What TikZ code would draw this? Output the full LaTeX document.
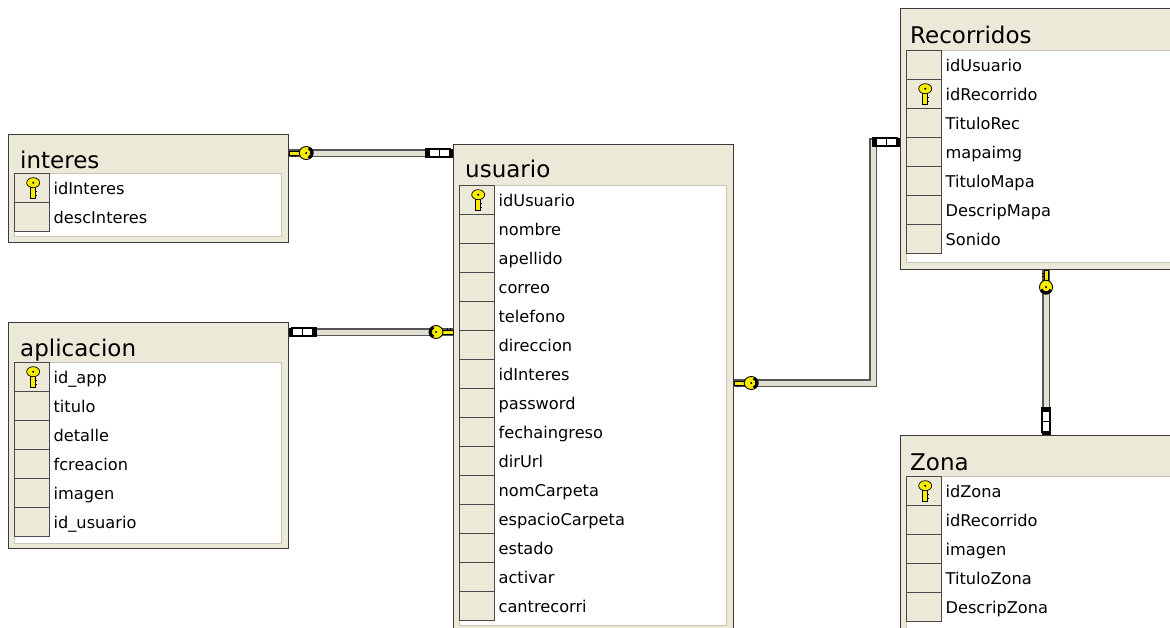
\documentclass[tikz,border=0pt]{standalone}
\usepackage{fontspec}
\setmainfont{DejaVu Sans}
\usetikzlibrary{positioning}
\definecolor{winbeige}{HTML}{ECE9D8}
\definecolor{tblborder}{HTML}{3A3A3A}
\definecolor{cellline}{HTML}{4A4A4A}
\definecolor{arealine}{HTML}{C8C4B8}
\definecolor{keyyellow}{HTML}{F8EC00}
\definecolor{pipeedge}{HTML}{555555}
\definecolor{pipecore}{HTML}{E2DFD3}
\tikzset{
	pkey/.pic={
		\filldraw[fill=keyyellow, draw=black, line width=0.7pt] (-2.5,-1) rectangle (2.2,10.5);
		\draw[line width=0.9pt] (2.2,4) -- (4.2,4) (2.2,7.5) -- (4.2,7.5);
		\filldraw[fill=keyyellow, draw=black, line width=0.7pt] (0,-5) ellipse (6.5 and 5);
		\fill (0,-5) circle (1.1);
	},
	keyend/.pic={
		\filldraw[fill=keyyellow, draw=black, line width=0.6pt] (0,-1.8) rectangle (11,1.8);
		\draw[line width=0.8pt] (3,1.8) -- (3,3.8) (6,1.8) -- (6,3.8);
		\filldraw[fill=keyyellow, draw=black, line width=0.9pt] (17,0) ellipse (7 and 6.5);
		\draw[line width=2.8pt] ([shift={(17,0)}]-65:5.8 and 5.3) arc (-65:65:5.8 and 5.3);
		\fill (17,0) circle (1.2);
	},
	manyend/.pic={
		\fill (0,-4.5) rectangle (3,4.5);
		\draw[fill=white, line width=1.5pt] (3,-4) rectangle (13.5,4) (13.5,-4) rectangle (24,4);
		\fill (24,-5) rectangle (28,5);
	}
}
\begin{document}
\begin{tikzpicture}[
	x=1pt, y=-1pt,
	tbl/.style={draw=tblborder, line width=1.2pt, fill=winbeige, anchor=north west, minimum width=280pt, inner sep=0pt},
	tbltitle/.style={anchor=base west, inner sep=0pt, font=\fontsize{23}{23}\selectfont},
	fieldarea/.style={draw=arealine, fill=white, anchor=north west, minimum width=267pt, inner sep=0pt},
	keycell/.style={draw=cellline, fill=winbeige, anchor=north west, minimum width=35pt, minimum height=29pt, inner sep=0pt},
	fieldname/.style={anchor=base west, inner sep=0pt, font=\fontsize{16.2}{16.2}\selectfont},
	pipe/.style={draw=pipeedge, double=pipecore, line width=1.1pt, double distance=5pt}
]
\clip (0,0) rectangle (1170,627);
\fill[white] (0,0) rectangle (1170,627);

% interes
\node[tbl, minimum height=108pt] (interes) at (8,134) {};
\node[tbltitle] (interes-title) at ([shift={(12,34)}]interes.north west) {interes};
\node[fieldarea, minimum height=63pt] (interes-fields) at ([shift={(6,39)}]interes.north west) {};
\foreach \f [count=\i] in {idInteres,descInteres}
	\node[keycell] (interes-\i) at ([shift={(0,{(\i-1)*29})}]interes-fields.north west) {}
		node[fieldname] (interes-\i-name) at ([shift={(4,21)}]interes-\i.north east) {\f};
\pic at ([xshift=1.5pt]interes-1) {pkey};

% aplicacion
\node[tbl, minimum height=226pt] (aplicacion) at (8,322) {};
\node[tbltitle] (aplicacion-title) at ([shift={(12,34)}]aplicacion.north west) {aplicacion};
\node[fieldarea, minimum height=181pt] (aplicacion-fields) at ([shift={(6,40)}]aplicacion.north west) {};
\foreach \f [count=\i] in {id\_app,titulo,detalle,fcreacion,imagen,id\_usuario}
	\node[keycell] (aplicacion-\i) at ([shift={(0,{(\i-1)*29})}]aplicacion-fields.north west) {}
		node[fieldname] (aplicacion-\i-name) at ([shift={(4,21)}]aplicacion-\i.north east) {\f};
\pic at ([xshift=1.5pt]aplicacion-1) {pkey};

% usuario
\node[tbl, minimum height=490pt] (usuario) at (453,144) {};
\node[tbltitle] (usuario-title) at ([shift={(12,33)}]usuario.north west) {usuario};
\node[fieldarea, minimum height=440pt] (usuario-fields) at ([shift={(6,41)}]usuario.north west) {};
\foreach \f [count=\i] in {idUsuario,nombre,apellido,correo,telefono,direccion,idInteres,password,fechaingreso,dirUrl,nomCarpeta,espacioCarpeta,estado,activar,cantrecorri}
	\node[keycell] (usuario-\i) at ([shift={(0,{(\i-1)*29})}]usuario-fields.north west) {}
		node[fieldname] (usuario-\i-name) at ([shift={(4,21)}]usuario-\i.north east) {\f};
\pic at ([xshift=1.5pt]usuario-1) {pkey};

% recorridos
\node[tbl, minimum height=261pt] (recorridos) at (900,8) {};
\node[tbltitle] (recorridos-title) at ([shift={(10,35)}]recorridos.north west) {Recorridos};
\node[fieldarea, minimum height=212pt] (recorridos-fields) at ([shift={(6,42)}]recorridos.north west) {};
\foreach \f [count=\i] in {idUsuario,idRecorrido,TituloRec,mapaimg,TituloMapa,DescripMapa,Sonido}
	\node[keycell] (recorridos-\i) at ([shift={(0,{(\i-1)*29})}]recorridos-fields.north west) {}
		node[fieldname] (recorridos-\i-name) at ([shift={(4,21)}]recorridos-\i.north east) {\f};
\pic at ([xshift=1.5pt]recorridos-2) {pkey};

% zona
\node[tbl, minimum height=200pt] (zona) at (900,435) {};
\node[tbltitle] (zona-title) at ([shift={(10,35)}]zona.north west) {Zona};
\node[fieldarea, minimum height=160pt] (zona-fields) at ([shift={(6,41)}]zona.north west) {};
\foreach \f [count=\i] in {idZona,idRecorrido,imagen,TituloZona,DescripZona}
	\node[keycell] (zona-\i) at ([shift={(0,{(\i-1)*29})}]zona-fields.north west) {}
		node[fieldname] (zona-\i-name) at ([shift={(4,21)}]zona-\i.north east) {\f};
\pic at ([xshift=1.5pt]zona-1) {pkey};

% relations
\coordinate (int-e) at ([shift={(0,19)}]interes.north east);
\coordinate (usu-w1) at (usuario.west |- int-e);
\draw[pipe] (int-e) -- (usu-w1);
\pic at (int-e) {keyend};
\pic[rotate=180] at (usu-w1) {manyend};

\coordinate (app-e) at ([shift={(0,10)}]aplicacion.north east);
\coordinate (usu-w2) at (usuario.west |- app-e);
\draw[pipe] (app-e) -- (usu-w2);
\pic at (app-e) {manyend};
\pic[rotate=180] at (usu-w2) {keyend};

\coordinate (usu-e) at ([shift={(0,239)}]usuario.north east);
\coordinate (rec-w) at ([shift={(0,134)}]recorridos.north west);
\draw[pipe] (usu-e) -| ([xshift=-27pt]rec-w) -- (rec-w);
\pic at (usu-e) {keyend};
\pic[rotate=180] at (rec-w) {manyend};

\coordinate (rec-s) at ([xshift=146pt]recorridos.south west);
\coordinate (zon-n) at (zona.north -| rec-s);
\draw[pipe] (rec-s) -- (zon-n);
\pic[rotate=-90] at (rec-s) {keyend};
\pic[rotate=90] at (zon-n) {manyend};
\end{tikzpicture}
\end{document}
